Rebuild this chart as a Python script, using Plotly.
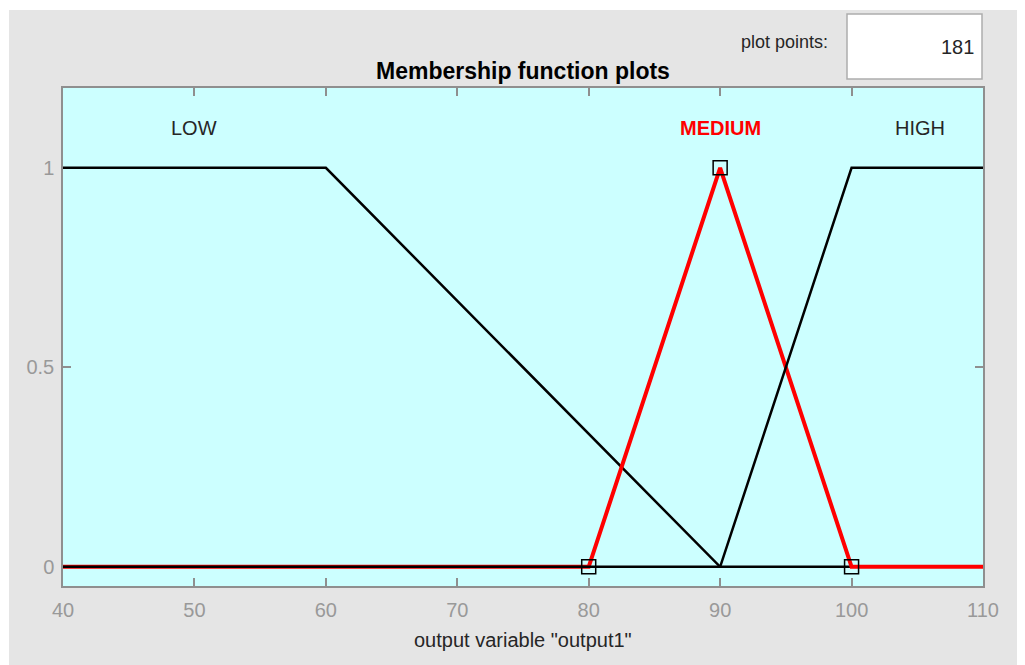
import plotly.graph_objects as go

# ---- data ----
low_x = [40, 60, 90, 110]
low_y = [1, 1, 0, 0]
medium_x = [40, 80, 90, 100, 110]
medium_y = [0, 0, 1, 0, 0]
high_x = [40, 90, 100, 110]
high_y = [0, 0, 1, 1]
vertex_x = [80, 90, 100]
vertex_y = [0, 1, 0]
mf_names = ["LOW", "MEDIUM", "HIGH"]
label_x = [50, 90, 105.2]
label_y = [1.1, 1.1, 1.1]
x_ticks = [40, 50, 60, 70, 80, 90, 100, 110]
y_ticks = [0, 0.5, 1]
y_ticktext = ["0", "0.5", "1"]
plot_points = "181"

FONT = "Liberation Sans, Arial, Helvetica, sans-serif"
GRAY_BG = "#e5e5e5"
AX_GRAY = "#8f8f8f"
TICK_GRAY = "#999999"
DARK = "#262626"

OFF = 8  # page body margin
W, H = 1025 - OFF, 665 - OFF
L, R, T, B = 63 - OFF, 983 - OFF, 88 - OFF, 586 - OFF


def px(x):
    return (x - OFF - L) / (R - L)


def py(y):
    return (B - (y - OFF)) / (B - T)


fig = go.Figure()
fig.add_trace(go.Scatter(x=low_x, y=low_y, mode="lines",
                         line=dict(color="black", width=2.5), hoverinfo="skip"))
fig.add_trace(go.Scatter(x=medium_x, y=medium_y, mode="lines",
                         line=dict(color="#ff0000", width=4), hoverinfo="skip"))
fig.add_trace(go.Scatter(x=high_x, y=high_y, mode="lines",
                         line=dict(color="black", width=2.5), hoverinfo="skip"))
fig.add_trace(go.Scatter(x=vertex_x, y=vertex_y, mode="markers",
                         marker=dict(symbol="square-open", size=14, color="black",
                                     line=dict(width=1.5, color="black")),
                         hoverinfo="skip"))

annotations = []
colors = [DARK, "#ff0000", DARK]
bolds = [False, True, False]
for name, lx, ly, c, b in zip(mf_names, label_x, label_y, colors, bolds):
    annotations.append(dict(x=lx, y=ly, xref="x", yref="y", text=f"<b>{name}</b>" if b else name,
                            showarrow=False, font=dict(family=FONT, size=20, color=c),
                            xanchor="center", yanchor="middle"))

annotations.append(dict(x=px(523), y=py(71), xref="paper", yref="paper",
                        text="<b>Membership function plots</b>", showarrow=False,
                        font=dict(family=FONT, size=23, color="black"),
                        xanchor="center", yanchor="middle"))
annotations.append(dict(x=px(523), y=py(640), xref="paper", yref="paper",
                        text='output variable "output1"', showarrow=False,
                        font=dict(family=FONT, size=20, color=DARK),
                        xanchor="center", yanchor="middle"))
annotations.append(dict(x=px(830), y=py(42), xref="paper", yref="paper",
                        text="plot points:", showarrow=False,
                        font=dict(family=FONT, size=18, color=DARK),
                        xanchor="right", yanchor="middle"))
annotations.append(dict(x=px(976), y=py(47), xref="paper", yref="paper",
                        text=plot_points, showarrow=False,
                        font=dict(family=FONT, size=20, color=DARK),
                        xanchor="right", yanchor="middle"))

shapes = [
    dict(type="rect", xref="paper", yref="paper", x0=px(0), x1=px(1030), y0=py(10), y1=py(0),
         fillcolor="white", line=dict(width=0)),
    dict(type="rect", xref="paper", yref="paper", x0=px(0), x1=px(9), y0=py(670), y1=py(0),
         fillcolor="white", line=dict(width=0)),
    dict(type="rect", xref="paper", yref="paper", x0=px(847), x1=px(982), y0=py(79), y1=py(14),
         fillcolor="white", line=dict(width=1.5, color="#adadad")),
]

fig.update_layout(
    width=W, height=H,
    margin=dict(l=L, r=W - R, t=T, b=H - B, pad=0),
    paper_bgcolor=GRAY_BG,
    plot_bgcolor="#ccffff",
    showlegend=False,
    annotations=annotations,
    shapes=shapes,
    font=dict(family=FONT, size=20, color=TICK_GRAY),
)
fig.update_xaxes(range=[40, 110], tickvals=x_ticks, ticks="inside", ticklen=8, tickwidth=1.5,
                 tickcolor=AX_GRAY, showline=True, linecolor=AX_GRAY, linewidth=1.5,
                 mirror="ticks", showgrid=False, zeroline=False, layer="below traces",
                 tickfont=dict(family=FONT, size=20, color=TICK_GRAY), ticklabelstandoff=5)
fig.update_yaxes(range=[-0.048, 1.2], tickvals=y_ticks, ticktext=y_ticktext, ticks="inside",
                 ticklen=8, tickwidth=1.5, tickcolor=AX_GRAY, showline=True, linecolor=AX_GRAY,
                 linewidth=1.5, mirror="ticks", showgrid=False, zeroline=False,
                 layer="below traces",
                 tickfont=dict(family=FONT, size=20, color=TICK_GRAY), ticklabelstandoff=3)

fig.write_html("out.html")
